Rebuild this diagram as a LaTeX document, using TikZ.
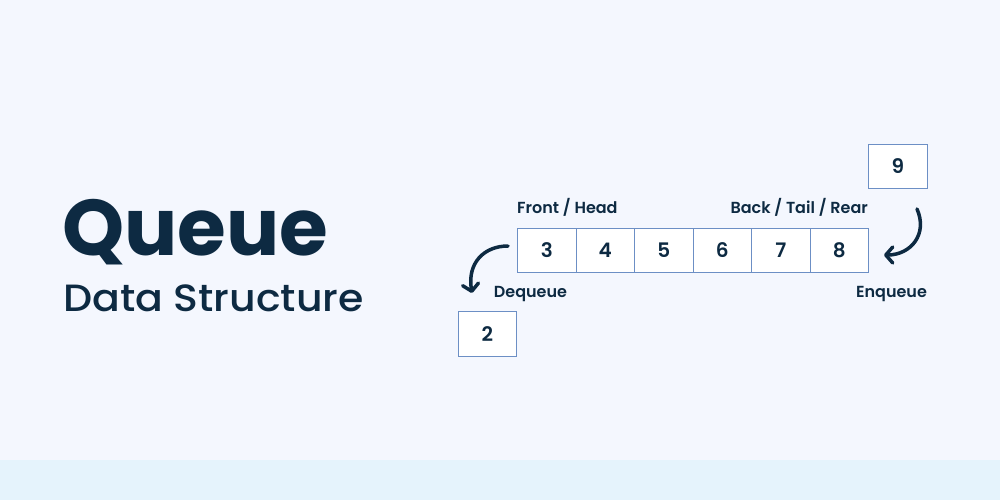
\documentclass[tikz,border=0pt]{standalone}
\usepackage{fontspec}
\setmainfont{Poppins}[BoldFont={Poppins Bold}]
\newfontfamily\popsemi{Poppins SemiBold}
\newfontfamily\popmed{Poppins Medium}[FakeStretch=1.08]
\usetikzlibrary{arrows.meta,positioning}
\definecolor{navy}{HTML}{0D2A42}
\definecolor{pagebg}{HTML}{F4F7FE}
\definecolor{bandbg}{HTML}{E5F3FC}
\definecolor{cellline}{HTML}{6C8FC5}
\tikzset{
  cell/.style={draw=cellline,fill=white,line width=1pt,minimum width=58.5pt,
    minimum height=44.5pt,inner sep=0pt,outer sep=0pt,text=navy,
    font=\popsemi\fontsize{20}{20}\selectfont},
  tag/.style={text=navy,inner sep=0pt,font=\popsemi\fontsize{16}{16}\selectfont},
  move/.style={draw=navy,line width=3.5pt,line cap=round,
    -{Straight Barb[length=7pt,width=16pt,line width=3.5pt,round]}}
}
\begin{document}
\begin{tikzpicture}[x=1pt,y=-1pt]
\useasboundingbox (0,0) rectangle (1000,500);
% background:
\path[fill=pagebg] (0,0) rectangle (1000,460);
\path[fill=bandbg] (0,460) rectangle (1000,500);
% title:
\node[anchor=base west,inner sep=0pt,text=navy,font=\bfseries\fontsize{79}{79}\selectfont] (title) at (62,255.7) {Queue};
\node[anchor=base west,inner sep=0pt,text=navy,font=\popmed\fontsize{38}{38}\selectfont] (subtitle) at (63,311) {Data Structure};
% the queue:
\foreach \v [count=\i from 0] in {3,4,5,6,7,8}
  \node[cell] (c\v) at (546.8+58.5*\i,250.5) {\v};
\node[cell] (in) at (897.8,166.5) {9};
\node[cell] (out) at (487.3,333.8) {2};
% labels:
\node[tag,anchor=base west] (front) at (517,213.5) {Front / Head};
\node[tag,anchor=base east] (back) at (868,213.5) {Back / Tail / Rear};
\node[tag,anchor=base] (deq) at (530.5,297.7) {Dequeue};
\node[tag,anchor=base] (enq) at (891.5,297.7) {Enqueue};
% arrows:
\coordinate (deqs) at (508,246);
\coordinate (deqe) at (472,293);
\coordinate (enqs) at (917,209);
\coordinate (enqe) at (884,255);
\draw[move] (deqs) .. controls (484,246) and (467,263) .. (deqe);
\draw[move] (enqs) .. controls (928,234) and (911,255) .. (enqe);
\end{tikzpicture}
\end{document}
